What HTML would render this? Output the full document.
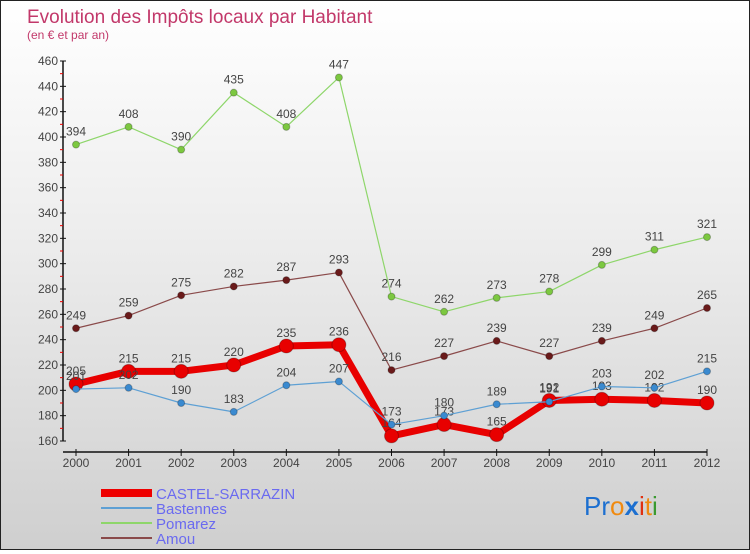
<!DOCTYPE html>
<html><head><meta charset="utf-8">
<style>
html,body{margin:0;padding:0}
body{width:750px;height:550px;overflow:hidden;font-family:"Liberation Sans",sans-serif}
#wrap{position:relative;width:748px;height:548px;border:1px solid #222;background:linear-gradient(#ffffff 0%,#ececec 45%,#cfcfcf 100%)}
.t{font-family:"Liberation Sans",sans-serif}
</style></head><body>
<div id="wrap">
<svg id="svg" width="748" height="548" xmlns="http://www.w3.org/2000/svg">
<text x="26" y="22" font-size="19" fill="#c2386a" class="t">Evolution des Impôts locaux par Habitant</text>
<text x="26" y="38" font-size="12" fill="#c2386a" class="t">(en € et par an)</text>
<g id="axes"></g><g id="series"></g>
<g>
<line x1="100" y1="492" x2="151" y2="492" stroke="#e00" stroke-width="8"/>
<text x="155" y="498" font-size="15" fill="#6a6af0" class="t">CASTEL-SARRAZIN</text>
<line x1="100" y1="507" x2="151" y2="507" stroke="#5ea0d4" stroke-width="2"/>
<text x="155" y="513" font-size="15" fill="#6a6af0" class="t">Bastennes</text>
<line x1="100" y1="522" x2="151" y2="522" stroke="#8ed66a" stroke-width="2"/>
<text x="155" y="528" font-size="15" fill="#6a6af0" class="t">Pomarez</text>
<line x1="100" y1="537" x2="151" y2="537" stroke="#8a4a4a" stroke-width="2"/>
<text x="155" y="543" font-size="15" fill="#6a6af0" class="t">Amou</text>
</g>
<g font-size="26" font-family="Liberation Sans,sans-serif">
<text x="583" y="514" class="t"><tspan fill="#1c6fd0">Pr</tspan><tspan fill="#f08a10">o</tspan><tspan fill="#1c6fd0" font-weight="bold">x</tspan><tspan fill="#e03010">i</tspan><tspan fill="#f08a10">t</tspan><tspan fill="#3a9a30">i</tspan></text>
</g>
</svg>
</div>
<script>
const years=["2000","2001","2002","2003","2004","2005","2006","2007","2008","2009","2010","2011","2012"];
const yTicks=[160,180,200,220,240,260,280,300,320,340,360,380,400,420,440,460];
const castel=[205,215,215,220,235,236,164,173,165,192,193,192,190];
const bastennes=[201,202,190,183,204,207,173,180,189,191,203,202,215];
const pomarez=[394,408,390,435,408,447,274,262,273,278,299,311,321];
const amou=[249,259,275,282,287,293,216,227,239,227,239,249,265];
const NS="http://www.w3.org/2000/svg";
const X0=75,X1=706,YMIN=160,YMAX=460,PY0=440,PY1=60;
function xs(i){return X0+(X1-X0)*i/(years.length-1);}
function ys(v){return PY0-(v-YMIN)*(PY0-PY1)/(YMAX-YMIN);}
function mk(tag,attrs,parent){const e=document.createElementNS(NS,tag);for(const k in attrs)e.setAttribute(k,attrs[k]);parent.appendChild(e);return e;}
const axes=document.getElementById('axes');
let yl=mk('line',{x1:62,y1:PY1,x2:62,y2:PY0,stroke:'#111','stroke-width':1.5},axes);


let xl=mk('line',{x1:62,y1:451,x2:X1,y2:451,stroke:'#111','stroke-width':1.5},axes);


yTicks.forEach((v,i)=>{const y=ys(v);
 mk('line',{x1:59,y1:y,x2:65,y2:y,stroke:'#111'},axes);
 if(i<yTicks.length-1){mk('line',{x1:59,y1:ys(v+10),x2:62,y2:ys(v+10),stroke:'#e00'},axes);}
 const t=mk('text',{x:57,y:y+4,'font-size':12,fill:'#444','text-anchor':'end'},axes);t.textContent=v;
 
 
});
years.forEach((yr,i)=>{const x=xs(i);
 mk('line',{x1:x,y1:448,x2:x,y2:455,stroke:'#111'},axes);
 const t=mk('text',{x:x,y:466,'font-size':12,fill:'#444','text-anchor':'middle'},axes);t.textContent=yr;
 
 
});
const sg=document.getElementById('series');
function draw(name,data,color,w,r,dot){
 const g=mk('g',{},sg);
 
 
 const pts=data.map((v,i)=>xs(i)+','+ys(v)).join(' ');
 mk('polyline',{points:pts,fill:'none',stroke:color,'stroke-width':w,'stroke-linejoin':'round'},g);
 data.forEach((v,i)=>{
  const c=mk('circle',{cx:xs(i),cy:ys(v),r:r,fill:dot,stroke:'rgba(0,0,0,0.25)','stroke-width':1},g);
  
  
  const t=mk('text',{x:xs(i),y:ys(v)-9,'font-size':12,fill:'#444','text-anchor':'middle'},g);t.textContent=v;
  
  
 });
}
draw('pomarez',pomarez,'#8ed66a',1.2,3.5,'#7cc840');
draw('amou',amou,'#8a4a4a',1.2,3.5,'#6a1a1a');
draw('castel',castel,'#e80000',7,7,'#e80000');
draw('bastennes',bastennes,'#5ea0d4',1.2,3.5,'#3a8ad0');
</script>
</body></html>
